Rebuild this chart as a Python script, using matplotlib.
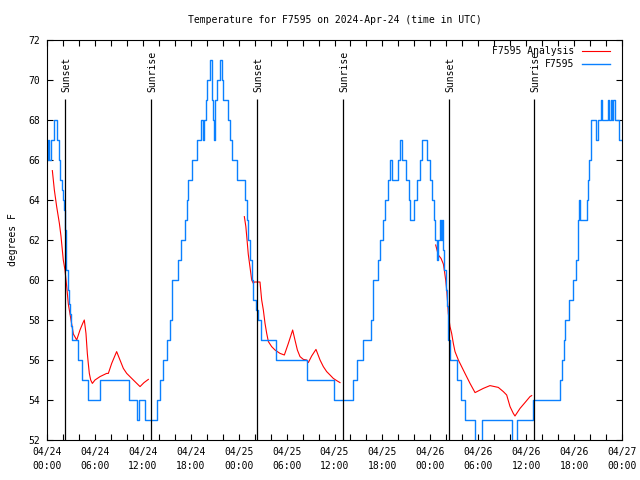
import matplotlib.pyplot as plt

plt.rcParams.update({'font.family': 'DejaVu Sans Mono', 'font.size': 7})

# time axis: hours since 2024-04-24 00:00 UTC
obs_t = [0.0, 0.12, 0.3, 0.45, 0.85, 1.25, 1.5, 1.68, 1.85, 2.0, 2.15, 2.28,
         2.35, 2.42, 2.58, 2.75, 2.88, 3.0, 3.17, 3.84, 4.34, 5.17, 6.64,
         10.27, 11.23, 11.48, 12.3, 13.73, 14.15, 14.5, 14.99, 15.36, 15.61,
         15.7, 16.36, 16.78, 17.3, 17.49, 17.7, 18.2, 18.74, 19.28, 19.55,
         19.7, 19.87, 20.08, 20.45, 20.6, 20.7, 20.83, 20.95, 21.04, 21.24,
         21.66, 21.87, 22.08, 22.62, 22.91, 23.2, 23.75, 24.79, 25.0, 25.2,
         25.42, 25.63, 25.83, 26.2, 26.46, 26.76, 28.67, 32.6, 35.94, 38.28,
         38.78, 39.61, 40.53, 40.78, 40.86, 41.49, 41.7, 42.03, 42.35, 42.66,
         42.95, 43.24, 43.91, 44.2, 44.41, 45.0, 45.3, 45.5, 45.9, 46.3,
         46.7, 47.0, 47.6, 48.0, 48.2, 48.45, 48.59, 48.8, 49.0, 49.21,
         49.34, 49.5, 49.63, 49.75, 49.92, 50.05, 50.17, 50.25, 50.46, 51.3,
         51.84, 52.34, 53.6, 54.43, 58.2, 58.82, 60.82, 64.28, 64.49, 64.7,
         64.9, 65.32, 65.9, 66.3, 66.45, 66.53, 66.66, 66.74, 67.58, 67.78,
         67.91, 68.08, 68.75, 69.04, 69.37, 69.54, 70.29, 70.41, 70.58, 70.75,
         70.91, 71.12, 71.6, 72.0]
obs_v = [66, 67, 66, 67, 68, 67, 66, 65, 64.5, 64, 63.5, 62.5,
         61.5, 60.5, 59.5, 58.8, 58.3, 57.7, 57, 56, 55, 54, 55,
         54, 53, 54, 53, 54, 55, 56, 57, 58, 59,
         60, 61, 62, 63, 64, 65, 66, 67, 68, 67,
         68, 69, 70, 71, 70, 69, 68, 67, 69, 70,
         71, 70, 69, 68, 67, 66, 65, 64, 63, 62,
         61, 60, 59, 58.5, 58, 57, 56, 55, 54, 55,
         56, 57, 58, 59, 60, 61, 62, 63, 64, 65,
         66, 65, 66, 67, 66, 65, 64, 63, 64, 65,
         66, 67, 66, 65, 64, 63, 62, 61, 62, 63,
         62, 63, 61.5, 60.5, 59.5, 58.7, 57.7, 57, 56, 55,
         54, 53, 51, 53, 51, 53, 54, 55, 56, 57,
         58, 59, 60, 61, 62, 63, 64, 63, 64, 65,
         66, 68, 67, 68, 69, 68, 69, 68, 69, 68,
         69, 68, 67, 67]

an1_t = [0.67, 0.92, 1.21, 1.55, 1.75, 2.04, 2.25, 2.46, 2.67, 2.88, 3.09,
         3.3, 3.72, 4.13, 4.47, 4.67, 4.88, 5.05, 5.17, 5.3, 5.47, 5.68,
         6.01, 6.64, 7.47, 7.68, 8.1, 8.72, 9.14, 9.56, 9.98, 10.81, 11.65,
         12.15, 12.69]
an1_v = [65.47, 64.5, 63.67, 62.83, 62.2, 61.0, 60.5, 59.7, 58.8, 58.3, 57.8,
         57.3, 57.0, 57.5, 57.83, 58.0, 57.33, 56.33, 55.83, 55.33, 55.0, 54.83,
         55.0, 55.17, 55.33, 55.33, 55.83, 56.42, 56.0, 55.58, 55.33, 55.0, 54.67,
         54.87, 55.03]

an2_t = [24.71, 24.9, 25.05, 25.2, 25.4, 25.63, 25.84, 25.96, 26.67, 26.88,
         27.09, 27.3, 27.51, 27.72, 28.13, 28.55, 29.18, 29.72, 30.22, 30.76,
         31.05, 31.35, 31.68, 32.1, 32.52, 32.72, 33.14, 33.68, 34.19, 34.6,
         35.02, 35.44, 35.85, 36.27, 36.69]
an2_v = [63.17, 62.67, 62.0, 61.3, 60.7, 60.0, 59.83, 59.9, 59.9, 59.0,
         58.5, 57.83, 57.33, 56.92, 56.67, 56.5, 56.33, 56.25, 56.83, 57.5,
         57.0, 56.5, 56.17, 56.03, 56.0, 55.87, 56.2, 56.53, 56.0, 55.67,
         55.42, 55.25, 55.08, 54.97, 54.87]

an3_t = [48.67, 49.0, 49.34, 49.63, 49.75, 49.92, 50.05, 50.17, 50.25, 50.46,
         50.67, 50.88, 51.09, 51.51, 52.34, 52.97, 53.6, 54.63, 55.47, 56.51,
         57.14, 57.56, 57.98, 58.39, 58.6, 59.23, 59.85, 60.48, 60.69]
an3_v = [61.75, 61.25, 61.08, 60.8, 60.5, 60.0, 59.5, 58.83, 58.33, 57.67,
         57.33, 56.83, 56.42, 56.0, 55.33, 54.83, 54.37, 54.58, 54.72, 54.63,
         54.42, 54.25, 53.67, 53.33, 53.2, 53.58, 53.87, 54.17, 54.22]

sun_t = [2.29, 13.06, 26.33, 37.10, 50.38, 61.02]
sun_lbl = ['Sunset', 'Sunrise', 'Sunset', 'Sunrise', 'Sunset', 'Sunrise']

tick_t = list(range(0, 73, 6))
tick_lbl = ['04/24\n00:00', '04/24\n06:00', '04/24\n12:00', '04/24\n18:00',
            '04/25\n00:00', '04/25\n06:00', '04/25\n12:00', '04/25\n18:00',
            '04/26\n00:00', '04/26\n06:00', '04/26\n12:00', '04/26\n18:00',
            '04/27\n00:00']

fig = plt.figure(figsize=(6.4, 4.8), dpi=100)
ax = fig.add_axes([47/640, 40/480, 575/640, 400/480])

ax.plot(an1_t, an1_v, color='#ff0000', lw=0.8, label='F7595 Analysis')
ax.plot(an2_t, an2_v, color='#ff0000', lw=0.8)
ax.plot(an3_t, an3_v, color='#ff0000', lw=0.8)
ax.plot(obs_t, obs_v, color='#0a80ff', lw=1.0, drawstyle='steps-post',
        label='F7595')

ax.vlines(sun_t, 52, 69.05, color='black', lw=0.9)
for t, s in zip(sun_t, sun_lbl):
    ax.text(t + 0.1, 69.4, s, rotation=90, ha='center', va='bottom')

ax.set_xlim(0, 72)
ax.set_ylim(52, 72)
ax.set_xticks(tick_t)
ax.set_xticklabels(tick_lbl, linespacing=1.45)
ax.set_xticks(range(0, 73, 2), minor=True)
ax.set_yticks(range(52, 73, 2))
ax.tick_params(which='both', direction='in', top=True, right=True,
               length=4.5, width=0.8)
ax.tick_params(axis='x', pad=5)
ax.tick_params(axis='y', pad=5)
for s in ax.spines.values():
    s.set_linewidth(0.8)

ax.set_title('Temperature for F7595 on 2024-Apr-24 (time in UTC)',
             fontsize=7, pad=12)
ax.set_ylabel('degrees F')
ax.yaxis.set_label_coords(-0.05, 0.5)

ax.legend(loc='upper right', bbox_to_anchor=(0.979, 0.985), frameon=False,
          markerfirst=False, borderaxespad=0, borderpad=0,
          handlelength=2.9, handletextpad=0.8, labelspacing=0.35)

plt.savefig('out.png')
